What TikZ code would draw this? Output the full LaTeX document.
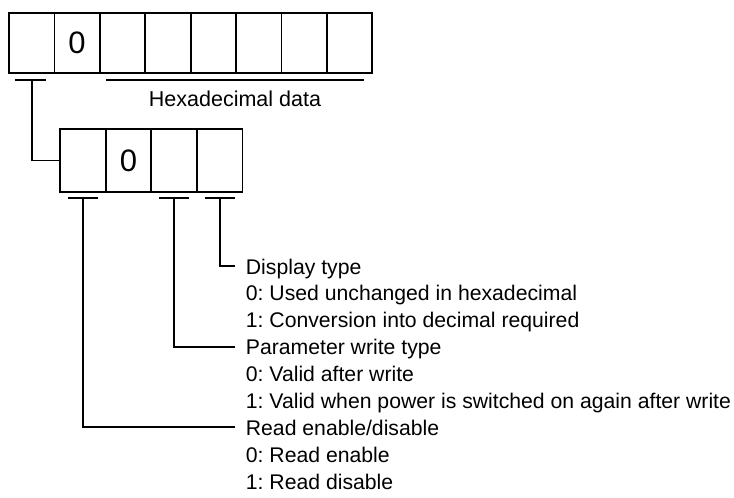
\documentclass[tikz,border=0pt]{standalone}
\usepackage{fontspec}
\setmainfont{Liberation Sans}
\frenchspacing
\begin{document}
\begin{tikzpicture}[x=1pt,y=-1pt,line width=1.8pt,
  topcell/.style={draw, minimum width=45.4pt, minimum height=60.6pt, inner sep=0pt, font=\fontsize{31}{36}\selectfont},
  botcell/.style={draw, minimum width=45.6pt, minimum height=62.4pt, inner sep=0pt, font=\fontsize{31}{36}\selectfont},
  title/.style={anchor=base west, inner xsep=10pt, inner ysep=0pt, font=\fontsize{21.2}{25}\selectfont},
  item/.style={anchor=base west, inner sep=0pt, font=\fontsize{21.2}{25}\selectfont},
  lbl/.style={anchor=base, inner sep=0pt, font=\fontsize{21.5}{26}\selectfont}]
\useasboundingbox (0,0) rectangle (734,498);
% top register
\foreach \i/\t in {1/{},2/0,3/{},4/{},5/{},6/{},7/{},8/{}}{
  \node[topcell] (t\i) at ({9+45.41*(\i-0.5)},43) {\t};
}
% bottom register
\foreach \i/\t in {1/{},2/0,3/{},4/{}}{
  \node[botcell] (b\i) at ({60+45.6*(\i-0.5)},160.5) {\t};
}
% underlines top
\coordinate (ua) at (31.7,80);
\draw ([xshift=-16.7pt]ua) -- ([xshift=14.3pt]ua);
\coordinate (hxl) at (106,80);
\coordinate (hxr) at (364,80);
\draw (hxl) -- (hxr);
\node[lbl] (hex) at (235,106) {Hexadecimal data};
\draw (ua) |- (b1.west);
% underlines bottom
\coordinate (d1) at (83.3,198);
\coordinate (d3) at (174.3,198);
\coordinate (d4) at (219.6,198);
\foreach \c in {d1,d3,d4}{
  \draw ([xshift=-15pt]\c) -- ([xshift=15pt]\c);
}
% texts
\node[title] (disp) at (235,274) {Display type};
\node[item] (disp0) at (245,300.9) {0: Used unchanged in hexadecimal};
\node[item] (disp1) at (245,327.8) {1: Conversion into decimal required};
\node[title] (par) at (235,354.6) {Parameter write type};
\node[item] (par0) at (245,381.5) {0: Valid after write};
\node[item] (par1) at (245,408.4) {1: Valid when power is switched on again after write};
\node[title] (rd) at (235,435.3) {Read enable/disable};
\node[item] (rd0) at (245,462.1) {0: Read enable};
\node[item] (rd1) at (245,489) {1: Read disable};
% leaders
\draw (d4) |- ([yshift=8pt]disp.base west);
\draw (d3) |- ([yshift=8pt]par.base west);
\draw (d1) |- ([yshift=8pt]rd.base west);
\end{tikzpicture}
\end{document}
